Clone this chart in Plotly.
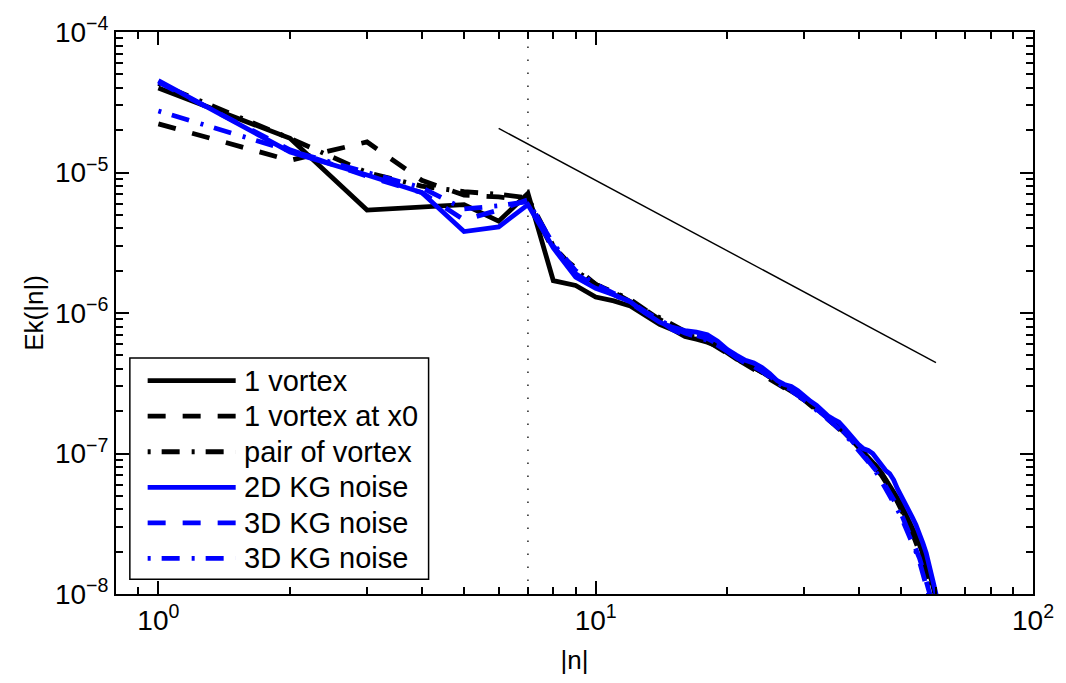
import plotly.graph_objects as go

# wavenumber shells |n|
n = list(range(1, 62))

# kinetic-energy spectra Ek(|n|)
one_vortex = [4.0e-5, 1.75e-5, 5.4e-6, 5.7e-6, 5.9e-6, 4.5e-6, 7.1e-6, 1.7e-6, 1.57e-6, 1.3e-6,
              1.22e-6, 1.12e-6, 9.6e-7, 8.3e-7, 7.6e-7, 6.8e-7, 6.5e-7, 6.2e-7, 5.8e-7, 5.2e-7,
              4.7e-7, 4.4e-7, 4.1e-7, 3.8e-7, 3.5e-7, 3.2e-7, 3.0e-7, 2.85e-7, 2.65e-7, 2.45e-7,
              2.25e-7, 2.1e-7, 1.95e-7, 1.8e-7, 1.68e-7, 1.55e-7, 1.42e-7, 1.3e-7, 1.2e-7, 1.1e-7,
              1.02e-7, 9.5e-8, 8.8e-8, 8.0e-8, 7.3e-8, 6.6e-8, 6.0e-8, 5.4e-8, 4.8e-8, 4.3e-8,
              3.8e-8, 3.4e-8, 3.0e-8, 2.6e-8, 2.25e-8, 1.95e-8, 1.65e-8, 1.4e-8, 1.15e-8, 9.5e-9,
              7.5e-9]
one_vortex_x0 = [2.22e-5, 1.22e-5, 1.65e-5, 8.8e-6, 6.9e-6, 6.7e-6, 6.3e-6, 2.8e-6, 2.1e-6, 1.6e-6,
                 1.4e-6, 1.2e-6, 1.05e-6, 9.0e-7, 8.0e-7, 7.2e-7, 6.6e-7, 6.3e-7, 5.7e-7, 5.1e-7,
                 4.7e-7, 4.3e-7, 4.0e-7, 3.7e-7, 3.4e-7, 3.15e-7, 2.95e-7, 2.75e-7, 2.6e-7, 2.4e-7,
                 2.2e-7, 2.05e-7, 1.9e-7, 1.75e-7, 1.62e-7, 1.5e-7, 1.4e-7, 1.3e-7, 1.2e-7, 1.1e-7,
                 1.0e-7, 9.2e-8, 8.5e-8, 7.8e-8, 7.0e-8, 6.3e-8, 5.7e-8, 5.1e-8, 4.5e-8, 4.0e-8,
                 3.5e-8, 3.1e-8, 2.7e-8, 2.35e-8, 2.0e-8, 1.7e-8, 1.45e-8, 1.2e-8, 1.0e-8, 8.3e-9,
                 6.8e-9]
vortex_pair = [4.3e-5, 1.75e-5, 1.0e-5, 8.0e-6, 7.3e-6, 7.0e-6, 6.6e-6, 3.0e-6, 2.0e-6, 1.6e-6,
               1.4e-6, 1.25e-6, 1.05e-6, 9.2e-7, 8.2e-7, 7.4e-7, 6.9e-7, 6.5e-7, 5.9e-7, 5.3e-7,
               4.8e-7, 4.4e-7, 4.1e-7, 3.8e-7, 3.5e-7, 3.2e-7, 3.0e-7, 2.8e-7, 2.6e-7, 2.45e-7,
               2.25e-7, 2.1e-7, 1.95e-7, 1.8e-7, 1.68e-7, 1.55e-7, 1.43e-7, 1.32e-7, 1.22e-7, 1.12e-7,
               1.03e-7, 9.5e-8, 8.7e-8, 8.0e-8, 7.2e-8, 6.5e-8, 5.8e-8, 5.2e-8, 4.6e-8, 4.1e-8,
               3.6e-8, 3.2e-8, 2.8e-8, 2.4e-8, 2.05e-8, 1.75e-8, 1.5e-8, 1.25e-8, 1.05e-8, 8.5e-9,
               7.0e-9]
kg2d = [4.5e-5, 1.4e-5, 9.6e-6, 7.2e-6, 3.8e-6, 4.1e-6, 5.9e-6, 2.9e-6, 1.8e-6, 1.5e-6,
        1.35e-6, 1.2e-6, 1.0e-6, 8.6e-7, 7.9e-7, 7.5e-7, 7.3e-7, 7.0e-7, 6.3e-7, 5.5e-7,
        5.0e-7, 4.6e-7, 4.4e-7, 4.1e-7, 3.7e-7, 3.3e-7, 3.1e-7, 3.0e-7, 2.8e-7, 2.55e-7,
        2.35e-7, 2.2e-7, 2.0e-7, 1.85e-7, 1.75e-7, 1.67e-7, 1.52e-7, 1.38e-7, 1.25e-7, 1.15e-7,
        1.08e-7, 1.05e-7, 1.0e-7, 9.0e-8, 8.2e-8, 7.6e-8, 7.2e-8, 6.5e-8, 5.6e-8, 5.0e-8,
        4.5e-8, 4.0e-8, 3.5e-8, 3.1e-8, 2.7e-8, 2.3e-8, 1.95e-8, 1.6e-8, 1.25e-8, 1.0e-8,
        7.5e-9]
kg3d_a = [4.4e-5, 1.45e-5, 9.4e-6, 7.2e-6, 4.6e-6, 5.4e-6, 6.4e-6, 3.0e-6, 1.9e-6, 1.55e-6,
          1.35e-6, 1.18e-6, 1.0e-6, 8.8e-7, 7.6e-7, 7.0e-7, 6.9e-7, 6.6e-7, 6.0e-7, 5.3e-7,
          4.8e-7, 4.4e-7, 4.2e-7, 3.9e-7, 3.55e-7, 3.2e-7, 3.0e-7, 2.85e-7, 2.7e-7, 2.45e-7,
          2.25e-7, 2.1e-7, 1.95e-7, 1.8e-7, 1.68e-7, 1.55e-7, 1.42e-7, 1.3e-7, 1.18e-7, 1.08e-7,
          9.8e-8, 9.0e-8, 8.2e-8, 7.4e-8, 6.6e-8, 5.9e-8, 5.3e-8, 4.7e-8, 4.2e-8, 3.7e-8,
          3.2e-8, 2.8e-8, 2.45e-8, 2.1e-8, 1.8e-8, 1.5e-8, 1.25e-8, 1.05e-8, 8.6e-9, 7.0e-9,
          5.8e-9]
kg3d_b = [2.74e-5, 1.43e-5, 1.0e-5, 7.8e-6, 5.5e-6, 5.8e-6, 6.2e-6, 3.1e-6, 2.0e-6, 1.6e-6,
          1.38e-6, 1.2e-6, 1.02e-6, 8.9e-7, 7.9e-7, 7.2e-7, 6.8e-7, 6.4e-7, 5.9e-7, 5.3e-7,
          4.8e-7, 4.4e-7, 4.15e-7, 3.85e-7, 3.5e-7, 3.2e-7, 2.95e-7, 2.8e-7, 2.6e-7, 2.4e-7,
          2.2e-7, 2.05e-7, 1.9e-7, 1.75e-7, 1.62e-7, 1.5e-7, 1.38e-7, 1.26e-7, 1.15e-7, 1.05e-7,
          9.6e-8, 8.8e-8, 8.0e-8, 7.2e-8, 6.4e-8, 5.7e-8, 5.1e-8, 4.5e-8, 4.0e-8, 3.5e-8,
          3.05e-8, 2.65e-8, 2.3e-8, 2.0e-8, 1.7e-8, 1.42e-8, 1.18e-8, 9.8e-9, 8.0e-9, 6.5e-9,
          5.3e-9]

# Kolmogorov -5/3 reference segment
ref_n = [6, 60]
ref_E = [2.06e-5, 4.44e-7]

# forcing shell
n_forcing = 7

labels = ["1 vortex", "1 vortex at x0", "pair of vortex",
          "2D KG noise", "3D KG noise", "3D KG noise"]
colors = ["black", "black", "black", "#0000ff", "#0000ff", "#0000ff"]
DASHED = "18px,17px"
DASHDOT = "3px,11px,18px,12px"
dashes = ["solid", DASHED, DASHDOT, "solid", DASHED, DASHDOT]
series = [one_vortex, one_vortex_x0, vortex_pair, kg2d, kg3d_a, kg3d_b]

LW = 4.8
FONT = "Liberation Sans, Arial, Helvetica, sans-serif"

fig = go.Figure()

fig.add_trace(go.Scatter(x=[n_forcing, n_forcing], y=[1e-8, 1e-4], mode="lines",
                         line=dict(color="black", width=1.3, dash="1.5px,11.5px"),
                         showlegend=False, hoverinfo="skip"))
fig.add_trace(go.Scatter(x=ref_n, y=ref_E, mode="lines",
                         line=dict(color="black", width=1.4),
                         showlegend=False, hoverinfo="skip"))

for lab, col, dsh, ys in zip(labels, colors, dashes, series):
    fig.add_trace(go.Scatter(x=n, y=ys, mode="lines", name=lab,
                             line=dict(color=col, width=LW, dash=dsh),
                             showlegend=False))

# hand-built legend box (long line samples)
L, R, T, B = 116, 1043, 25, 594
W, H = R - L, B - T
def px_x(p):
    return (p - L) / W
def px_y(p):
    return (B - p) / H

shapes = [dict(type="rect", xref="paper", yref="paper",
               x0=px_x(130), x1=px_x(432), y0=px_y(579), y1=px_y(355),
               line=dict(color="black", width=1.5), fillcolor="white", layer="above")]
annotations = []
row0, row_step = 378, 36
for i, (lab, col, dsh) in enumerate(zip(labels, colors, dashes)):
    yy = px_y(row0 + i * row_step)
    shapes.append(dict(type="line", xref="paper", yref="paper",
                       x0=px_x(148), x1=px_x(237), y0=yy, y1=yy,
                       line=dict(color=col, width=LW, dash=dsh), layer="above"))
    annotations.append(dict(xref="paper", yref="paper", x=px_x(243), y=yy,
                            text=lab, showarrow=False, xanchor="left", yanchor="middle",
                            font=dict(family=FONT, size=29, color="black")))

xt = [1, 10, 100]
yt = [1e-8, 1e-7, 1e-6, 1e-5, 1e-4]
axis_common = dict(type="log", showline=True, linecolor="black", linewidth=2, mirror="allticks",
                   ticks="inside", ticklen=13, tickwidth=1.5, tickcolor="black",
                   showgrid=False, zeroline=False,
                   minor=dict(ticks="inside", ticklen=7, tickwidth=1.5, tickcolor="black",
                              dtick="D1", showgrid=False),
                   tickfont=dict(family=FONT, size=28, color="black"))

fig.update_xaxes(**axis_common, range=[-0.09691, 2], tickvals=xt,
                 ticktext=["10<sup>0</sup>", "10<sup>1</sup>", "10<sup>2</sup>"],
                 title=dict(text="|n|", font=dict(family=FONT, size=26, color="black"), standoff=16))
fig.update_yaxes(**axis_common, range=[-8, -4], tickvals=yt,
                 ticktext=["10<sup>−8</sup>", "10<sup>−7</sup>", "10<sup>−6</sup>",
                           "10<sup>−5</sup>", "10<sup>−4</sup>"],
                 title=dict(text="Ek(|n|)", font=dict(family=FONT, size=26, color="black"), standoff=4))

fig.update_layout(width=1066, height=683, margin=dict(l=L, r=1066 - R, t=T, b=683 - B),
                  paper_bgcolor="white", plot_bgcolor="white",
                  shapes=shapes, annotations=annotations, showlegend=False)

fig.write_html("out.html")
